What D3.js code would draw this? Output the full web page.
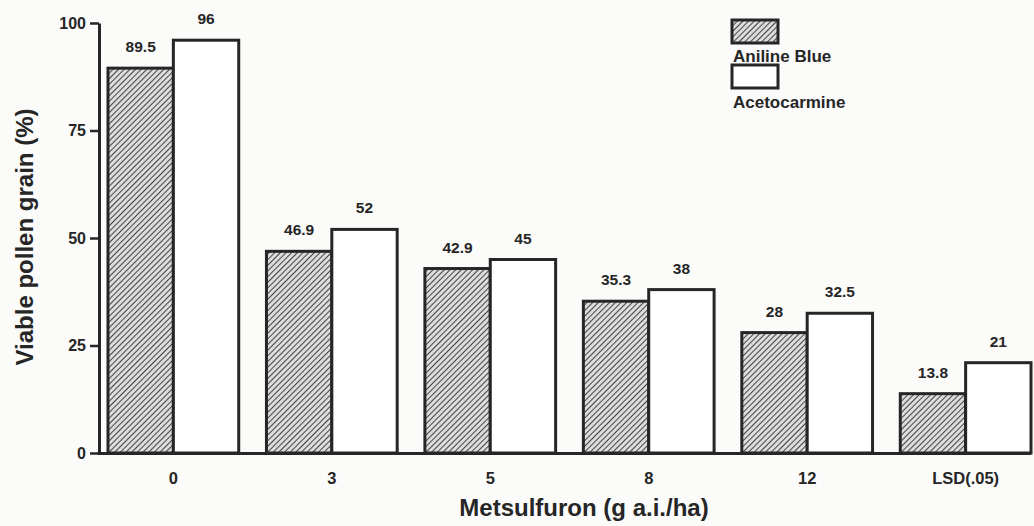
<!DOCTYPE html>
<html>
<head>
<meta charset="utf-8">
<script src="https://cdn.jsdelivr.net/npm/d3@7"></script>
<style>
  body { margin: 0; background: #fbfbfa; }
  svg { display: block; font-family: Arial, "Liberation Sans", sans-serif; }
</style>
</head>
<body>
<script>
// data
var categories = ["0", "3", "5", "8", "12", "LSD(.05)"];
var anilineBlue = [89.5, 46.9, 42.9, 35.3, 28, 13.8];
var acetocarmine = [96, 52, 45, 38, 32.5, 21];
var seriesNames = ["Aniline Blue", "Acetocarmine"];
var yTicks = [0, 25, 50, 75, 100];

var width = 1034, height = 526;
var ink = "#262626";
var font = "Arial, 'Liberation Sans', sans-serif";

var svg = d3.select("body").append("svg")
    .attr("width", width)
    .attr("height", height);

// hatch pattern for aniline blue bars
var defs = svg.append("defs");
defs.append("pattern")
    .attr("id", "hatch")
    .attr("patternUnits", "userSpaceOnUse")
    .attr("width", 4)
    .attr("height", 4)
    .attr("patternTransform", "rotate(45)")
  .call(function (p) {
      p.append("rect").attr("width", 4).attr("height", 4).attr("fill", "#dcdcdc");
      p.append("line").attr("x1", 0).attr("y1", 0).attr("x2", 0).attr("y2", 4)
          .attr("stroke", "#333333").attr("stroke-width", 1.8);
  });

// scales
var x = d3.scaleBand()
    .domain(categories)
    .range([108, 1031])
    .paddingInner(0.175)
    .paddingOuter(0);
var x1 = d3.scaleBand()
    .domain(seriesNames)
    .range([0, x.bandwidth()]);
var y = d3.scaleLinear()
    .domain([0, 100])
    .range([453, 23]);

var rows = categories.map(function (c, i) {
    return { cat: c, vals: [
        { key: seriesNames[0], v: anilineBlue[i] },
        { key: seriesNames[1], v: acetocarmine[i] }
    ] };
});

// bars
var groups = svg.append("g").selectAll("g")
    .data(rows)
    .join("g")
    .attr("transform", function (d) { return "translate(" + x(d.cat) + ",0)"; });

groups.selectAll("rect")
    .data(function (d) { return d.vals; })
    .join("rect")
    .attr("x", function (d) { return x1(d.key); })
    .attr("y", function (d) { return y(d.v); })
    .attr("width", x1.bandwidth())
    .attr("height", function (d) { return y(0) - y(d.v); })
    .attr("fill", function (d) { return d.key === seriesNames[0] ? "url(#hatch)" : "#ffffff"; })
    .attr("stroke", ink)
    .attr("stroke-width", 3);

// value labels
groups.selectAll("text")
    .data(function (d) { return d.vals; })
    .join("text")
    .attr("x", function (d) { return x1(d.key) + x1.bandwidth() / 2; })
    .attr("y", function (d) { return y(d.v) - 16; })
    .attr("text-anchor", "middle")
    .attr("font-size", 15.5)
    .attr("font-weight", "bold")
    .attr("fill", ink)
    .text(function (d) { return d.v; });

// y axis
var yAxis = svg.append("g")
    .attr("transform", "translate(99,0)")
    .call(d3.axisLeft(y).tickValues(yTicks).tickSize(9).tickSizeOuter(0).tickPadding(4));
yAxis.select(".domain").attr("stroke", ink).attr("stroke-width", 3);
yAxis.selectAll(".tick line").attr("stroke", ink).attr("stroke-width", 2.5);
yAxis.selectAll(".tick text")
    .attr("font-size", 16)
    .attr("font-weight", "bold")
    .attr("fill", ink)
    .attr("font-family", font);

// x axis
var xAxis = svg.append("g")
    .attr("transform", "translate(0," + y(0) + ")")
    .call(d3.axisBottom(x).tickSize(0).tickPadding(19));
xAxis.select(".domain")
    .attr("d", "M97.5,0.5H1031")
    .attr("stroke", ink).attr("stroke-width", 3);
xAxis.selectAll(".tick text")
    .attr("font-size", 16.5)
    .attr("font-weight", "bold")
    .attr("fill", ink)
    .attr("font-family", font);

// axis titles
svg.append("text")
    .attr("x", 584)
    .attr("y", 516)
    .attr("text-anchor", "middle")
    .attr("font-size", 24)
    .attr("font-weight", "bold")
    .attr("fill", ink)
    .text("Metsulfuron (g a.i./ha)");

svg.append("text")
    .attr("transform", "translate(33,237) rotate(-90)")
    .attr("text-anchor", "middle")
    .attr("font-size", 24)
    .attr("font-weight", "bold")
    .attr("fill", ink)
    .text("Viable pollen grain (%)");

// legend
var legend = svg.append("g").attr("transform", "translate(732,20)");
seriesNames.forEach(function (name, i) {
    legend.append("rect")
        .attr("x", 0)
        .attr("y", i * 45)
        .attr("width", 46)
        .attr("height", 23)
        .attr("fill", i === 0 ? "url(#hatch)" : "#ffffff")
        .attr("stroke", ink)
        .attr("stroke-width", 3);
    legend.append("text")
        .attr("x", 1)
        .attr("y", i * 46 + 42)
        .attr("font-size", 17)
        .attr("font-weight", "bold")
        .attr("fill", ink)
        .text(name);
});
</script>
</body>
</html>
